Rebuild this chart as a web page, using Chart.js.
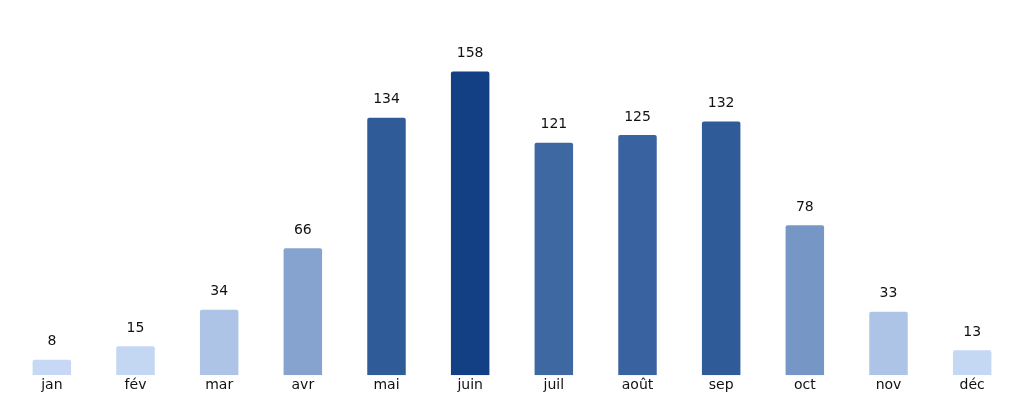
<!DOCTYPE html>
<html>
<head>
<meta charset="utf-8">
<script src="https://cdn.jsdelivr.net/npm/chart.js@4"></script>
<style>
  html, body { margin: 0; padding: 0; background: #fff; }
  #wrap { width: 1024px; height: 404px; }
</style>
</head>
<body>
<div id="wrap"><canvas id="c"></canvas></div>
<script>
const months = ['jan', 'fév', 'mar', 'avr', 'mai', 'juin', 'juil', 'août', 'sep', 'oct', 'nov', 'déc'];
const values = [8, 15, 34, 66, 134, 158, 121, 125, 132, 78, 33, 13];
const barColors = ['#c6d8f3', '#c3d6f2', '#adc4e6', '#86a3cf', '#2f5c98', '#133f84',
                   '#3e68a1', '#3963a0', '#2f5c98', '#7696c5', '#aec4e7', '#c5d8f3'];

const valueLabels = {
  id: 'valueLabels',
  afterDatasetsDraw(chart) {
    const ctx = chart.ctx;
    const meta = chart.getDatasetMeta(0);
    ctx.save();
    ctx.font = '14px "DejaVu Sans"';
    ctx.fillStyle = '#111';
    ctx.textAlign = 'center';
    ctx.textBaseline = 'middle';
    meta.data.forEach((bar, i) => {
      ctx.fillText(String(values[i]), bar.x, bar.y - 18);
    });
    ctx.restore();
  }
};

new Chart(document.getElementById('c').getContext('2d'), {
  type: 'bar',
  data: {
    labels: months,
    datasets: [{
      data: values,
      backgroundColor: barColors,
      borderRadius: 2,
      borderSkipped: 'bottom',
      categoryPercentage: 1,
      barPercentage: 0.46
    }]
  },
  options: {
    responsive: true,
    maintainAspectRatio: false,
    animation: false,
    layout: { padding: { top: 10, left: 10, right: 10, bottom: 8 } },
    plugins: { legend: { display: false }, tooltip: { enabled: false } },
    scales: {
      x: {
        grid: { display: false, drawTicks: false },
        border: { display: false },
        ticks: { font: { family: '"DejaVu Sans"', size: 14 }, color: '#111', padding: 2 }
      },
      y: { display: false, min: 0, max: 190 }
    }
  },
  plugins: [valueLabels]
});
</script>
</body>
</html>
